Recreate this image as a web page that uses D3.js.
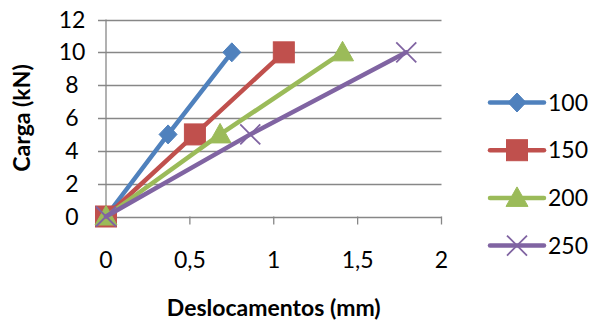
<!DOCTYPE html>
<html>
<head>
<meta charset="utf-8">
<script src="https://cdn.jsdelivr.net/npm/d3@7"></script>
<style>
  html, body { margin: 0; padding: 0; background: #fff; }
  svg { display: block; }
  text { font-family: Lato, "Open Sans", sans-serif; fill: #000; }
</style>
</head>
<body>
<svg id="chart" width="591" height="325"></svg>
<script>
// Load–displacement data per series
const seriesNames = ["100", "150", "200", "250"];
const disp100 = [0, 0.37, 0.75];
const disp150 = [0, 0.53, 1.06];
const disp200 = [0, 0.68, 1.41];
const disp250 = [0, 0.86, 1.79];
const loads = [0, 5, 10];
const xTicks = [0, 0.5, 1, 1.5, 2];
const yTicks = [0, 2, 4, 6, 8, 10, 12];
const xTitle = "Deslocamentos (mm)";
const yTitle = "Carga (kN)";

const colors = ["#4F81BD", "#C0504D", "#9BBB59", "#8064A2"];
const shapes = ["diamond", "square", "triangle", "cross"];
const dispSets = [disp100, disp150, disp200, disp250];

const series = seriesNames.map((name, i) => ({
  name, color: colors[i], shape: shapes[i],
  points: dispSets[i].map((d, j) => ({ x: d, y: loads[j] }))
}));

const svg = d3.select("#chart");
const x = d3.scaleLinear().domain([0, 2]).range([106, 441.5]);
const y = d3.scaleLinear().domain([0, 12]).range([216.5, 19.5]);
const fmt = d => String(d).replace(".", ",");

const gridColor = "#878787";
const tickFont = "23px";
const titleFont = "23px";

// horizontal gridlines (with short outside ticks on the left)
svg.append("g").selectAll("line").data(yTicks).join("line")
  .attr("x1", 98).attr("x2", x(2))
  .attr("y1", d => Math.round(y(d)) + 0.5).attr("y2", d => Math.round(y(d)) + 0.5)
  .attr("stroke", gridColor).attr("stroke-width", 1.3);

// vertical axis line
svg.append("line")
  .attr("x1", x(0)).attr("x2", x(0)).attr("y1", y(12)).attr("y2", y(0))
  .attr("stroke", gridColor).attr("stroke-width", 1.3);

// x tick marks
svg.append("g").selectAll("line").data(xTicks).join("line")
  .attr("x1", d => x(d)).attr("x2", d => x(d))
  .attr("y1", y(0)).attr("y2", y(0) + 8)
  .attr("stroke", gridColor).attr("stroke-width", 1.3);

// tick labels
svg.append("g").selectAll("text").data(yTicks).join("text")
  .attr("x", 72).attr("y", d => y(d) + 8)
  .attr("text-anchor", "middle").style("font-size", tickFont)
  .text(d => d);

svg.append("g").selectAll("text").data(xTicks).join("text")
  .attr("x", d => x(d)).attr("y", 268)
  .attr("text-anchor", "middle").style("font-size", tickFont)
  .text(fmt);

// axis titles
svg.append("text")
  .attr("x", (x(0) + x(2)) / 2).attr("y", 316)
  .attr("text-anchor", "middle").style("font-size", titleFont).style("font-weight", "bold")
  .text(xTitle);

svg.append("text")
  .attr("transform", `translate(30,${(y(0) + y(12)) / 2}) rotate(-90)`)
  .attr("text-anchor", "middle").style("font-size", titleFont).style("font-weight", "bold")
  .text(yTitle);

// marker drawing
function drawMarker(g, shape, color, cx, cy) {
  if (shape === "diamond") {
    g.append("path").attr("d", `M${cx},${cy - 9.5}L${cx + 9},${cy}L${cx},${cy + 9.5}L${cx - 9},${cy}Z`)
      .attr("fill", color).attr("stroke", color).attr("stroke-width", 1);
  } else if (shape === "square") {
    g.append("rect").attr("x", cx - 10.5).attr("y", cy - 10.5).attr("width", 21).attr("height", 21)
      .attr("fill", color).attr("stroke", color).attr("stroke-width", 1);
  } else if (shape === "triangle") {
    g.append("path").attr("d", `M${cx},${cy - 11}L${cx + 11},${cy + 8.5}L${cx - 11},${cy + 8.5}Z`)
      .attr("fill", color).attr("stroke", color).attr("stroke-width", 1);
  } else {
    g.append("path").attr("d", `M${cx - 10},${cy - 10}L${cx + 10},${cy + 10}M${cx - 10},${cy + 10}L${cx + 10},${cy - 10}`)
      .attr("stroke", color).attr("stroke-width", 1.8).attr("fill", "none");
  }
}

const line = d3.line().x(d => x(d.x)).y(d => y(d.y));

series.forEach(s => {
  const g = svg.append("g");
  g.append("path").datum(s.points).attr("d", line)
    .attr("fill", "none").attr("stroke", s.color).attr("stroke-width", 4.5)
    .attr("stroke-linejoin", "round").attr("stroke-linecap", "round");
  s.points.forEach(p => drawMarker(g, s.shape, s.color, x(p.x), y(p.y)));
});

// legend
const legend = svg.append("g");
series.forEach((s, i) => {
  const ly = 102.5 + i * 47.7;
  const g = legend.append("g");
  g.append("line").attr("x1", 490).attr("x2", 544).attr("y1", ly).attr("y2", ly)
    .attr("stroke", s.color).attr("stroke-width", 4.5).attr("stroke-linecap", "round");
  drawMarker(g, s.shape, s.color, 517, ly);
  g.append("text").attr("x", 548).attr("y", ly + 8).style("font-size", tickFont).text(s.name);
});
</script>
</body>
</html>
